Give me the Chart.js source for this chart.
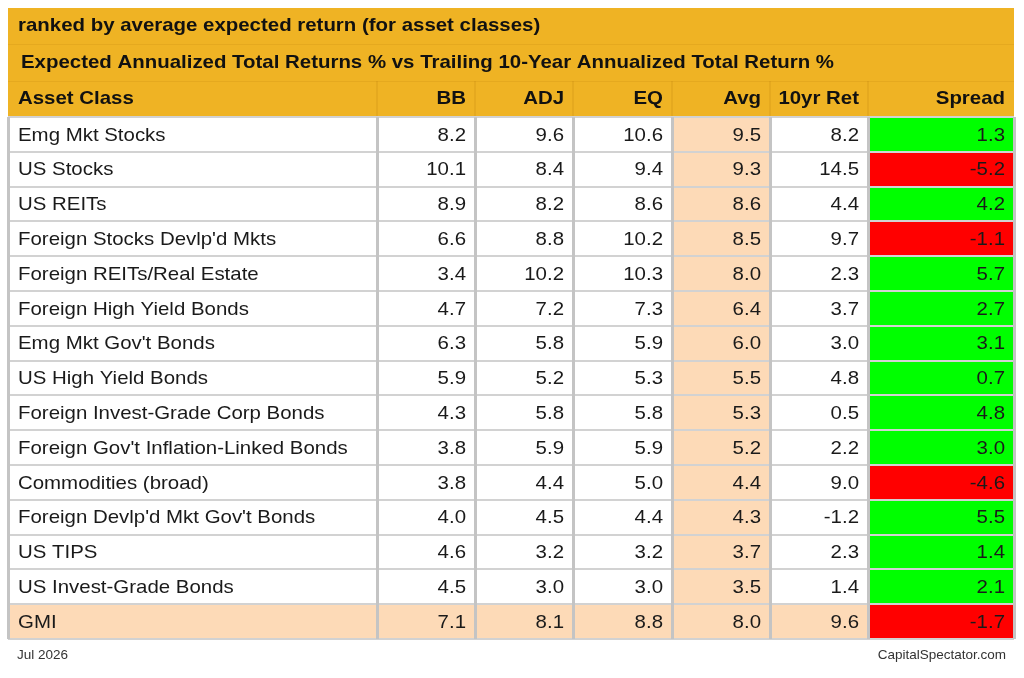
<!DOCTYPE html>
<html>
<head>
<meta charset="utf-8">
<script src="https://cdn.jsdelivr.net/npm/chart.js@4"></script>
<style>
  body { margin: 0; background: #fff; }
  #wrap { width: 1024px; height: 678px; position: relative; }
</style>
</head>
<body>
<div id="wrap"><canvas id="stage"></canvas></div>
<script>
// data
const assetClasses = [
  'Emg Mkt Stocks', 'US Stocks', 'US REITs', "Foreign Stocks Devlp'd Mkts",
  'Foreign REITs/Real Estate', 'Foreign High Yield Bonds', "Emg Mkt Gov't Bonds",
  'US High Yield Bonds', 'Foreign Invest-Grade Corp Bonds', "Foreign Gov't Inflation-Linked Bonds",
  'Commodities (broad)', "Foreign Devlp'd Mkt Gov't Bonds", 'US TIPS', 'US Invest-Grade Bonds', 'GMI'
];
const bb     = [8.2, 10.1, 8.9, 6.6, 3.4, 4.7, 6.3, 5.9, 4.3, 3.8, 3.8, 4.0, 4.6, 4.5, 7.1];
const adj    = [9.6, 8.4, 8.2, 8.8, 10.2, 7.2, 5.8, 5.2, 5.8, 5.9, 4.4, 4.5, 3.2, 3.0, 8.1];
const eq     = [10.6, 9.4, 8.6, 10.2, 10.3, 7.3, 5.9, 5.3, 5.8, 5.9, 5.0, 4.4, 3.2, 3.0, 8.8];
const avg    = [9.5, 9.3, 8.6, 8.5, 8.0, 6.4, 6.0, 5.5, 5.3, 5.2, 4.4, 4.3, 3.7, 3.5, 8.0];
const tenYr  = [8.2, 14.5, 4.4, 9.7, 2.3, 3.7, 3.0, 4.8, 0.5, 2.2, 9.0, -1.2, 2.3, 1.4, 9.6];
const spread = [1.3, -5.2, 4.2, -1.1, 5.7, 2.7, 3.1, 0.7, 4.8, 3.0, -4.6, 5.5, 1.4, 2.1, -1.7];
const headers = ['Asset Class', 'BB', 'ADJ', 'EQ', 'Avg', '10yr Ret', 'Spread'];

const title1 = 'ranked by average expected return (for asset classes)';
const title2 = 'Expected Annualized Total Returns % vs Trailing 10-Year Annualized Total Return %';
const dateTxt = 'Jul 2026';
const srcTxt = 'CapitalSpectator.com';

// layout (column edges on the x scale)
const colEdges = [0, 369, 467, 565, 664, 762, 860, 1006];

const ORANGE = 'rgb(239,179,36)';
const PEACH = 'rgb(253,218,183)';
const GREEN = 'rgb(0,255,0)';
const RED = 'rgb(255,0,0)';
const FONT = '"Liberation Sans", Arial, sans-serif';
const STRETCH = 1.075; // table text in the reference runs a bit wide

const columns = [null, bb, adj, eq, avg, tenYr, spread];
const last = assetClasses.length - 1;

function cellColor(col, row) {
  if (col === 6) return spread[row] >= 0 ? GREEN : RED;
  if (col === 4 || row === last) return PEACH;
  return '#ffffff';
}

const datasets = headers.map((h, c) => ({
  label: h,
  data: assetClasses.map(() => [colEdges[c], colEdges[c + 1]]),
  backgroundColor: assetClasses.map((a, r) => cellColor(c, r)),
  borderWidth: 0,
  barPercentage: 1,
  categoryPercentage: 1
}));

// text drawn stretched horizontally around its anchor
function wideText(ctx, txt, px, py) {
  ctx.save();
  ctx.translate(px, py);
  ctx.scale(STRETCH, 1);
  ctx.fillText(txt, 0, 0);
  ctx.restore();
}

const tablePlugin = {
  id: 'tableText',
  beforeDraw(chart) {
    const ctx = chart.ctx;
    const x = chart.scales.x;
    const area = chart.chartArea;
    ctx.save();
    ctx.fillStyle = '#fff';
    ctx.fillRect(0, 0, chart.width, chart.height);
    ctx.fillStyle = ORANGE;
    ctx.fillRect(area.left, 8, area.right - area.left, area.top - 8);
    // faint header separators
    ctx.fillStyle = 'rgba(160,100,0,0.12)';
    ctx.fillRect(area.left, 44, area.right - area.left, 1);
    ctx.fillRect(area.left, 81, area.right - area.left, 1);
    for (let c = 1; c < colEdges.length - 1; c++) {
      ctx.fillRect(Math.round(x.getPixelForValue(colEdges[c])) - 1, 81, 2, area.top - 81);
    }
    ctx.restore();
  },
  afterDraw(chart) {
    const ctx = chart.ctx;
    const x = chart.scales.x;
    const y = chart.scales.y;
    const area = chart.chartArea;
    ctx.save();
    ctx.textBaseline = 'middle';
    ctx.fillStyle = '#111';
    ctx.font = 'bold 19px ' + FONT;
    ctx.textAlign = 'left';
    wideText(ctx, title1, area.left + 10, 26);
    wideText(ctx, title2, area.left + 13, 63);
    headers.forEach((h, c) => {
      if (c === 0) {
        ctx.textAlign = 'left';
        wideText(ctx, h, x.getPixelForValue(colEdges[0]) + 10, 99);
      } else {
        ctx.textAlign = 'right';
        wideText(ctx, h, x.getPixelForValue(colEdges[c + 1]) - 9, 99);
      }
    });
    ctx.font = '19px ' + FONT;
    ctx.fillStyle = '#1a1a1a';
    assetClasses.forEach((name, r) => {
      const py = y.getPixelForValue(r) + 1;
      ctx.textAlign = 'left';
      wideText(ctx, name, x.getPixelForValue(colEdges[0]) + 10, py);
      ctx.textAlign = 'right';
      for (let c = 1; c < columns.length; c++) {
        wideText(ctx, columns[c][r].toFixed(1), x.getPixelForValue(colEdges[c + 1]) - 9, py);
      }
    });
    ctx.font = '13.5px ' + FONT;
    ctx.fillStyle = '#333';
    ctx.textAlign = 'left';
    ctx.fillText(dateTxt, area.left + 9, 655);
    ctx.textAlign = 'right';
    ctx.fillText(srcTxt, area.right - 8, 655);
    ctx.restore();
  }
};

new Chart(document.getElementById('stage'), {
  type: 'bar',
  data: { labels: assetClasses, datasets: datasets },
  options: {
    indexAxis: 'y',
    responsive: true,
    maintainAspectRatio: false,
    animation: false,
    events: [],
    layout: { padding: { left: 8, right: 10, top: 117, bottom: 39 } },
    plugins: { legend: { display: false }, tooltip: { enabled: false }, title: { display: false } },
    datasets: { bar: { grouped: false } },
    scales: {
      x: {
        type: 'linear',
        min: colEdges[0],
        max: colEdges[colEdges.length - 1],
        afterBuildTicks: (s) => { s.ticks = colEdges.map(v => ({ value: v })); },
        ticks: { display: false },
        border: { display: false },
        grid: { z: 2, color: 'rgb(196,196,196)', lineWidth: 3, drawTicks: false }
      },
      y: {
        type: 'category',
        ticks: { display: false },
        border: { display: false },
        grid: { z: 1, color: 'rgb(210,210,210)', lineWidth: 2, drawTicks: false, offset: true }
      }
    }
  },
  plugins: [tablePlugin]
});
</script>
</body>
</html>
